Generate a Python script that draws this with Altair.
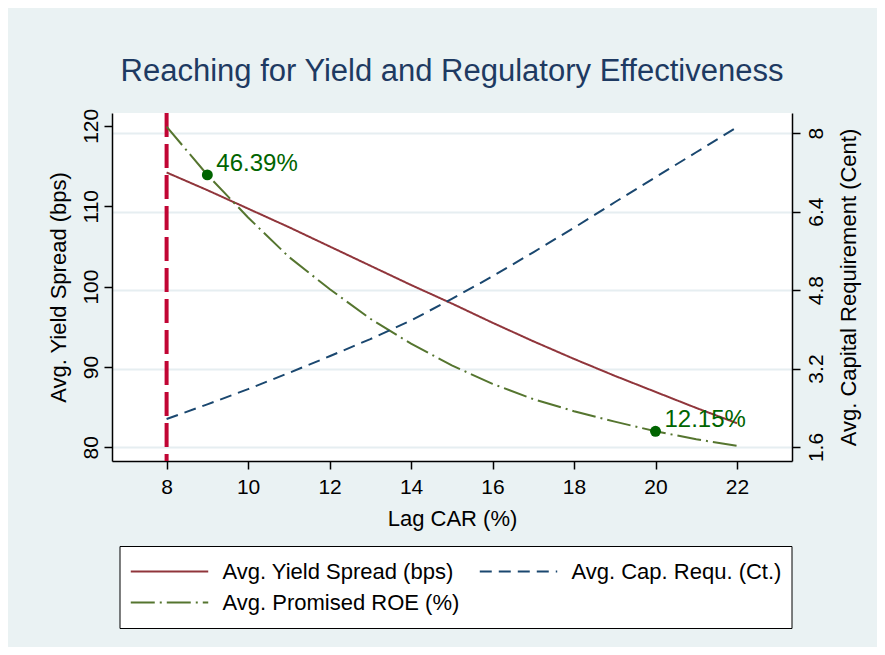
import altair as alt
import pandas as pd

# ---- data ----
lag_car = [8, 9, 10, 11, 12, 13, 14, 15, 16, 17, 18, 19, 20, 21, 22]
yield_spread = [114.2, 112.0, 109.7, 107.4, 105.0, 102.6, 100.2, 97.9, 95.5, 93.2, 91.0, 88.9, 86.9, 84.9, 83.0]
cap_requ = [2.17, 2.47, 2.78, 3.11, 3.45, 3.80, 4.18, 4.62, 5.08, 5.57, 6.07, 6.59, 7.10, 7.61, 8.12]
promised_roe = [119.9, 113.9, 108.6, 103.7, 99.7, 96.0, 92.9, 90.2, 87.9, 86.0, 84.5, 83.2, 82.0, 81.0, 80.2]

series_names = ["Avg. Yield Spread (bps)", "Avg. Cap. Requ. (Ct.)", "Avg. Promised ROE (%)"]
series_colors = ["#90353b", "#1a476f", "#55752f"]
series_dashes = [[1, 0], [12, 7], [24, 5, 2, 5]]

marker_x = [9, 20]
marker_y = [113.9, 82.0]
marker_text = ["46.39%", "12.15%"]

threshold_x = [8]

x_ticks = [8, 10, 12, 14, 16, 18, 20, 22]
left_ticks = [80, 90, 100, 110, 120]
right_ticks = [1.6, 3.2, 4.8, 6.4, 8]

FONT = "Liberation Sans"

# ---- tables ----
df_left = pd.DataFrame({
    "x": lag_car * 2,
    "y": yield_spread + promised_roe,
    "series": [series_names[0]] * len(lag_car) + [series_names[2]] * len(lag_car),
})
df_right = pd.DataFrame({"x": lag_car, "y": cap_requ, "series": [series_names[1]] * len(lag_car)})
df_mark = pd.DataFrame({"x": marker_x, "y": marker_y, "label": marker_text})
df_thr = pd.DataFrame({"x": threshold_x})

x_enc = alt.X("x:Q", scale=alt.Scale(domain=[6.66, 23.35], nice=False, zero=False),
              axis=alt.Axis(values=x_ticks, title="Lag CAR (%)", grid=False, tickSize=8,
                            labelPadding=7, titlePadding=11, labelFontSize=21, titleFontSize=22))

left_scale = alt.Scale(domain=[78.3, 121.6], nice=False, zero=False)
right_scale = alt.Scale(domain=[1.315, 8.41], nice=False, zero=False)

color_enc = alt.Color("series:N", title=None,
                      scale=alt.Scale(domain=series_names, range=series_colors),
                      legend=alt.Legend(orient="none", legendX=7.5, legendY=433, columns=2,
                                        direction="horizontal",
                                        symbolType="stroke", symbolSize=6000, symbolStrokeWidth=2,
                                        clipHeight=31,
                                        labelFontSize=22, labelFont=FONT, labelColor="black",
                                        labelOffset=13, columnPadding=19, rowPadding=0,
                                        padding=10, strokeColor="black", fillColor="white",
                                        labelLimit=400))
dash_enc = alt.StrokeDash("series:N", title=None,
                          scale=alt.Scale(domain=series_names, range=series_dashes))

left_axis = alt.Axis(values=left_ticks, title="Avg. Yield Spread (bps)", grid=False, tickSize=8,
                     labelAngle=270, labelAlign="center", labelBaseline="bottom", labelPadding=3,
                     labelFontSize=21, titleFontSize=22, titlePadding=10)
right_axis = alt.Axis(values=right_ticks, orient="right", title="Avg. Capital Requirement (Cent)",
                      grid=True, gridColor="#e6eef1", gridWidth=2, tickSize=8,
                      labelExpr="'' + datum.value",
                      labelAngle=270, labelAlign="center", labelBaseline="top", labelPadding=5,
                      labelFontSize=21, titleFontSize=22, titleAngle=270, titleBaseline="top",
                      titlePadding=12)

thr = alt.Chart(df_thr).mark_rule(color="#c10534", strokeWidth=4, strokeDash=[24, 7]).encode(x=x_enc)

left_lines = alt.Chart(df_left).mark_line(strokeWidth=2).encode(
    x=x_enc,
    y=alt.Y("y:Q", scale=left_scale, axis=left_axis),
    color=color_enc,
    strokeDash=dash_enc,
    detail="series:N",
)

pts = alt.Chart(df_mark).mark_circle(size=120, color="#006400", opacity=1).encode(
    x=x_enc, y=alt.Y("y:Q", scale=left_scale))
txt = alt.Chart(df_mark).mark_text(align="left", baseline="alphabetic", dx=9, dy=-4,
                                   fontSize=24, font=FONT, color="#006400").encode(
    x=x_enc, y=alt.Y("y:Q", scale=left_scale), text="label:N")

left = alt.layer(thr, left_lines, pts, txt)

right = alt.Chart(df_right).mark_line(strokeWidth=2).encode(
    x=x_enc,
    y=alt.Y("y:Q", scale=right_scale, axis=right_axis),
    color=color_enc,
    strokeDash=dash_enc,
)

chart = alt.layer(left, right).resolve_scale(y="independent").properties(
    width=680, height=348,
    padding={"left": 104, "top": 105, "right": 85, "bottom": 186},
    autosize=alt.AutoSizeParams(type="none"),
    background="#eaf2f3",
    title=alt.TitleParams("Reaching for Yield and Regulatory Effectiveness", fontSize=31,
                          font=FONT, fontWeight="normal", color="#1e3a62", anchor="middle",
                          offset=20),
).configure_view(fill="white", strokeWidth=0).configure_axis(
    labelFont=FONT, titleFont=FONT, labelColor="black", titleColor="black",
    titleFontWeight="normal", domainColor="black", tickColor="black", domainWidth=1.5,
    tickWidth=1.5,
)

chart.save("out.html", embed_options={"renderer": "svg", "actions": False})
